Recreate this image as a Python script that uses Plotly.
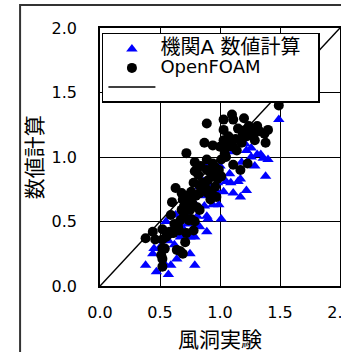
import plotly.graph_objects as go

# Black circles: OpenFOAM (x = wind tunnel, y = numerical)
of_x = [0.38, 0.44, 0.46, 0.52, 0.52, 0.52, 0.51, 0.52, 0.52, 0.54, 0.57, 0.59, 0.60, 0.63,
        0.61, 0.64, 0.67, 0.69, 0.66, 0.67, 0.68, 0.69, 0.68, 0.72, 0.71, 0.72, 0.74, 0.75,
        0.75, 0.76, 0.78, 0.79, 0.79, 0.81, 0.78, 0.79, 0.81, 0.83, 0.83, 0.83, 0.85, 0.87,
        0.89, 0.89, 0.89, 0.90, 0.90, 0.92, 0.94, 0.94, 0.94, 0.96, 0.97, 0.99, 1.00, 1.01,
        1.01, 1.03, 1.03, 1.03, 1.04, 1.06, 1.07, 1.10, 1.11, 1.11, 1.13, 1.11, 1.15, 1.17,
        1.18, 1.20, 1.21, 1.22, 1.23, 1.26, 1.29, 1.31, 1.33, 1.36, 1.37, 1.38, 1.40, 1.49,
        0.70, 0.73, 0.77, 0.80, 0.86, 0.88, 0.92, 0.96, 0.98, 0.62, 0.58, 0.55, 0.65, 0.70,
        0.76, 0.82, 0.93, 1.05, 1.08, 1.14, 1.19, 1.24, 1.28, 0.84]
of_y = [0.37, 0.42, 0.36, 0.44, 0.36, 0.29, 0.24, 0.21, 0.15, 0.29, 0.40, 0.55, 0.65, 0.76,
        0.41, 0.28, 0.27, 0.25, 0.43, 0.51, 0.59, 0.67, 0.72, 1.03, 0.34, 0.41, 0.51, 0.59,
        0.67, 0.73, 0.80, 0.89, 0.96, 0.91, 0.43, 0.50, 0.61, 0.59, 0.72, 0.78, 0.74, 1.11,
        1.26, 0.98, 0.90, 0.82, 0.72, 0.67, 1.09, 0.95, 0.85, 0.77, 0.69, 0.90, 1.08, 0.98,
        0.85, 1.29, 1.21, 1.13, 1.03, 1.08, 1.16, 1.33, 1.29, 1.08, 1.14, 0.94, 1.22, 0.90,
        1.11, 1.30, 1.21, 1.16, 0.95, 1.19, 1.13, 1.24, 1.20, 1.49, 1.18, 1.11, 1.21, 1.40,
        0.62, 0.70, 0.64, 0.70, 0.80, 0.76, 0.88, 0.92, 0.83, 0.48, 0.42, 0.38, 0.46, 0.55,
        0.52, 0.86, 0.73, 1.00, 1.12, 1.05, 1.18, 1.24, 1.17, 0.93]

# Blue triangles: institution A numerical
a_x = [0.38, 0.44, 0.45, 0.47, 0.53, 0.57, 0.59, 0.61, 0.62, 0.64, 0.67, 0.68, 0.75, 0.75,
       0.79, 0.79, 0.81, 0.83, 0.89, 0.89, 0.90, 0.94, 0.99, 1.01, 0.97, 1.00, 1.03, 1.05,
       1.08, 1.09, 1.11, 1.15, 1.17, 1.17, 1.22, 1.18, 1.22, 1.26, 1.29, 1.31, 1.34, 1.36,
       1.40, 1.38, 1.49, 1.01, 0.89, 0.83, 0.86, 1.11, 1.21, 1.26,
       0.55, 0.63, 0.70, 0.72, 0.78, 0.84, 0.87, 0.92, 0.95, 0.98, 0.66, 0.73, 0.57, 0.50]
a_y = [0.16, 0.25, 0.29, 0.11, 0.18, 0.09, 0.16, 0.45, 0.32, 0.21, 0.38, 0.46, 0.25, 0.38,
       0.16, 0.38, 0.54, 0.46, 0.42, 0.54, 0.52, 0.63, 0.63, 0.52, 0.74, 0.93, 0.73, 0.81,
       0.87, 0.80, 0.72, 0.81, 0.69, 0.83, 0.74, 0.96, 1.05, 1.00, 0.93, 1.02, 1.02, 0.99,
       0.98, 0.85, 1.29, 0.99, 0.95, 0.77, 0.81, 1.04, 1.10, 1.07,
       0.50, 0.55, 0.60, 0.55, 0.65, 0.70, 0.62, 0.78, 0.85, 0.80, 0.40, 0.48, 0.35, 0.30]

diag = [0.0, 2.0]
ticks = [0.0, 0.5, 1.0, 1.5, 2.0]
tick_text = ["0.0", "0.5", "1.0", "1.5", "2.0"]

FONT = "DejaVu Sans, Noto Sans CJK JP"

fig = go.Figure()
fig.add_trace(go.Scatter(x=a_x, y=a_y, mode="markers",
                         name='<span style="font-size:20px">機関A 数値計算&nbsp;&nbsp;</span>',
                         marker=dict(symbol="triangle-up", size=10, color="#0000FF")))
fig.add_trace(go.Scatter(x=of_x, y=of_y, mode="markers",
                         name='<span style="font-size:18px">OpenFOAM</span>',
                         marker=dict(symbol="circle", size=10, color="#000000")))
fig.add_trace(go.Scatter(x=diag, y=diag, mode="lines", name="",
                         line=dict(color="#000000", width=1.5)))

axis_common = dict(range=[0, 2], tickvals=ticks, ticktext=tick_text, showgrid=True,
                   gridcolor="#000000", gridwidth=1, showline=True, linecolor="#000000",
                   linewidth=1.5, mirror=True, ticks="", zeroline=False,
                   tickfont=dict(family=FONT, size=16, color="#000000"),
                   ticklabeloverflow="allow", automargin=False)

fig.update_layout(
    width=341, height=352,
    margin=dict(l=100, r=1, t=28, b=66, autoexpand=False),
    paper_bgcolor="white", plot_bgcolor="white",
    xaxis=dict(axis_common, ticklabelstandoff=11),
    yaxis=dict(axis_common, ticklabelstandoff=18),
    showlegend=True,
    legend=dict(x=0.008, y=0.981, xanchor="left", yanchor="top",
                bgcolor="white", bordercolor="#000000", borderwidth=1.5,
                font=dict(family=FONT, size=12, color="#000000"),
                itemwidth=47, tracegroupgap=0),
    annotations=[
        dict(text="風洞実験", x=0.5, y=-0.209, xref="paper", yref="paper",
             showarrow=False, font=dict(family=FONT, size=21, color="#000000"),
             xanchor="center", yanchor="middle"),
        dict(text="数値計算", x=-0.27, y=0.5, xref="paper", yref="paper", textangle=-90,
             showarrow=False, font=dict(family=FONT, size=21, color="#000000"),
             xanchor="center", yanchor="middle"),
    ],
    shapes=[dict(type="rect", xref="paper", yref="paper", x0=-0.333, x1=1.3,
                 y0=-0.35, y1=1.089, line=dict(color="#333333", width=2),
                 fillcolor="rgba(0,0,0,0)", layer="below")],
)

fig.write_html("out.html")
